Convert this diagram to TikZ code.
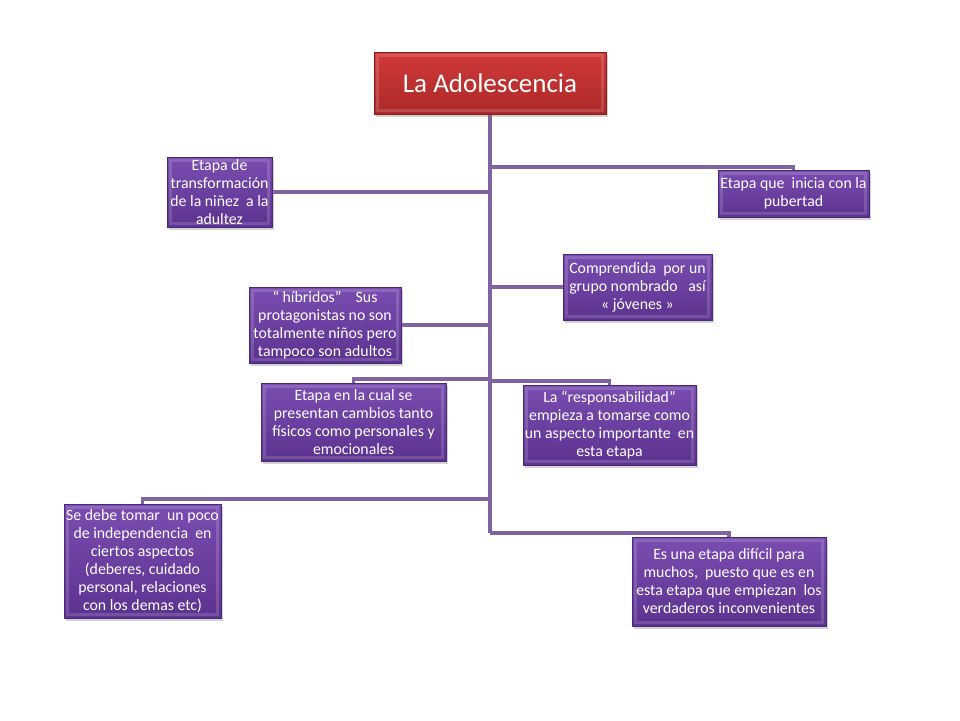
\documentclass[tikz,border=0pt]{standalone}
\usepackage{fontspec}
\setmainfont{Carlito}
\usetikzlibrary{shadows,backgrounds}
\definecolor{boxtop}{HTML}{7A4DB0}
\definecolor{boxbot}{HTML}{5C3290}
\definecolor{boxedge}{HTML}{4A2A78}
\definecolor{linepurple}{HTML}{8064A2}
\definecolor{titletop}{HTML}{D03A38}
\definecolor{titlebot}{HTML}{AC2828}
\definecolor{titleedge}{HTML}{8A1C1C}
\tikzset{
  bevel/.style={path picture={
    \draw[white,opacity=0.15,line width=2.5pt]
      ([shift={(3.5pt,-3.5pt)}]path picture bounding box.north west) rectangle
      ([shift={(-3.5pt,3.5pt)}]path picture bounding box.south east);}},
  infobox/.style={rectangle, draw=boxedge, line width=0.8pt,
    top color=boxtop, bottom color=boxbot, text=white, align=center,
    inner sep=1pt, font=\fontsize{15.8}{18}\selectfont, bevel,
    drop shadow={shadow xshift=2pt, shadow yshift=-3pt, opacity=0.35}},
  titlebox/.style={rectangle, draw=titleedge, line width=0.8pt,
    top color=titletop, bottom color=titlebot, text=white, align=center,
    font=\fontsize{27}{30}\selectfont, bevel,
    drop shadow={shadow xshift=2pt, shadow yshift=-3pt, opacity=0.35}},
  conn/.style={draw=linepurple, line width=3.2pt}
}
\begin{document}
\begin{tikzpicture}[x=1pt,y=-1pt]
\useasboundingbox (0,0) rectangle (960,720);
\node[titlebox, minimum width=232pt, minimum height=62pt] (title) at (490,83) {La Adolescencia};
\node[infobox, minimum width=105pt, minimum height=70pt] (b1) at (219.5,192) {Etapa de\\transformación\\de la niñez~ a la\\adultez};
\node[infobox, minimum width=151pt, minimum height=47pt] (b2) at (793.5,193.5) {Etapa que~ inicia con la\\pubertad};
\node[infobox, minimum width=149pt, minimum height=66pt] (b3) at (637.5,287) {Comprendida~ por un\\grupo nombrado~~ así\\« jóvenes »};
\node[infobox, minimum width=152pt, minimum height=76pt] (b4) at (325,325) {“ híbridos”~~~ Sus\\protagonistas no son\\totalmente niños pero\\tampoco son adultos};
\node[infobox, minimum width=185pt, minimum height=78pt] (b5) at (353.5,422) {Etapa en la cual se\\presentan cambios tanto\\físicos como personales y\\emocionales};
\node[infobox, minimum width=173pt, minimum height=80pt] (b6) at (609.5,425) {La “responsabilidad”\\empieza a tomarse como\\un aspecto importante~ en\\esta etapa};
\node[infobox, minimum width=157pt, minimum height=114pt] (b7) at (142.5,561) {Se debe tomar~ un poco\\de independencia~ en\\ciertos aspectos\\(deberes, cuidado\\personal, relaciones\\con los demas etc)};
\node[infobox, minimum width=194pt, minimum height=89pt] (b8) at (729,581.5) {Es una etapa difícil para\\muchos,~ puesto que es en\\esta etapa que empiezan~ los\\verdaderos inconvenientes};
\coordinate (s2) at (490,167);
\coordinate (s5) at (490,379);
\coordinate (s6) at (490,381);
\coordinate (s7) at (490,499);
\coordinate (s8) at (490,533);
\begin{scope}[on background layer]
\draw[conn] (title.south) -- (s8);
\draw[conn] (b1.east) -- (b1.east -| s2);
\draw[conn] (s2) -| (b2.north);
\draw[conn] (b3.west) -- (b3.west -| s2);
\draw[conn] (b4.east) -- (b4.east -| s2);
\draw[conn] (s5) -| (b5.north);
\draw[conn] (s6) -| (b6.north);
\draw[conn] (s7) -| (b7.north);
\draw[conn] (s8) -| (b8.north);
\end{scope}
\end{tikzpicture}
\end{document}
